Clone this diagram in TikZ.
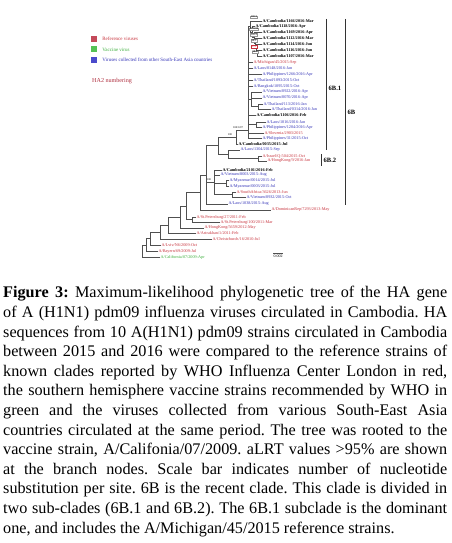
\documentclass[tikz,border=0pt]{standalone}
\usepackage{fontspec}
\setmainfont{Liberation Serif}
\usetikzlibrary{positioning}
\definecolor{refRed}{HTML}{C8323C}
\definecolor{vacGreen}{HTML}{3CAF3C}
\definecolor{seaBlue}{HTML}{3434B8}
\definecolor{keyRed}{HTML}{C44A5A}
\definecolor{keyGreen}{HTML}{55C155}
\definecolor{keyBlue}{HTML}{4A4ACB}
\definecolor{haRed}{HTML}{B03040}
\definecolor{branchGray}{HTML}{505050}

\begin{document}
\begin{tikzpicture}[
    x=1pt, y=-1pt,
    leaf/.style={anchor=west, inner sep=0.4pt, font=\fontsize{4.2}{5}\selectfont},
    camb/.style={leaf, font=\fontsize{4.2}{5}\selectfont\bfseries},
    refv/.style={leaf, text=refRed},
    vacv/.style={leaf, text=vacGreen},
    seav/.style={leaf, text=seaBlue},
    br/.style={draw=branchGray, line width=0.45pt},
    boot/.style={inner sep=0.3pt, font=\fontsize{2.8}{3}\selectfont},
    bootbox/.style={boot, draw=branchGray!60, line width=0.15pt, fill=white},
    cbar/.style={draw=black!80, line width=0.55pt},
    clade/.style={anchor=west, inner sep=0.5pt, font=\fontsize{6.5}{7}\selectfont\bfseries},
    keysq/.style={minimum size=6pt, inner sep=0pt},
    keytext/.style={anchor=west, inner sep=0pt, font=\fontsize{5}{6}\selectfont},
    caption/.style={anchor=north west, inner sep=0pt, text width=444pt, align=justify, font=\fontsize{16.2}{19.6}\selectfont\frenchspacing}
  ]
  \path[use as bounding box, fill=white] (0,0) rectangle (452,543);

  \node[keysq, fill=keyRed] (sqRef) at (94,39) {};
  \node[keysq, fill=keyGreen] (sqVac) at (94,49.5) {};
  \node[keysq, fill=keyBlue] (sqSea) at (94,60) {};
  \node[keytext, text=refRed, right=5pt of sqRef] (txRef) {Reference viruses};
  \node[keytext, text=vacGreen, right=5pt of sqVac] (txVac) {Vaccine virus};
  \node[keytext, text=seaBlue, right=5pt of sqSea] (txSea) {Viruses collected from other South-East Asia countries};
  \node[keytext, text=haRed, font=\fontsize{6.1}{7}\selectfont] (ha2) at (92,81) {HA2 numbering};

  \node[camb] (c1) at (262,21) {A/Cambodia/1166/2016-Mar};
  \node[camb] (c2) at (255,26) {A/Cambodia/1118/2016-Apr};
  \node[camb] (c3) at (262,32) {A/Cambodia/1169/2016-Apr};
  \node[camb] (c4) at (262,38) {A/Cambodia/1112/2016-Mar};
  \node[camb] (c5) at (262,44) {A/Cambodia/1114/2016-Jun};
  \node[camb] (c6) at (262,50) {A/Cambodia/1116/2016-Jun};
  \node[camb] (c7) at (262,56) {A/Cambodia/1107/2016-Mar};
  \node[refv] (mich) at (253,62) {A/Michigan/45/2015-Sep};
  \node[seav] (laos1) at (253,68) {A/Laos/0148/2016-Jan};
  \node[seav] (phil1) at (262,74) {A/Philippines/1266/2016-Apr};
  \node[seav] (thai1) at (253,80) {A/Thailand/1093/2015-Oct};
  \node[seav] (bkk) at (253,86) {A/Bangkok/1095/2015-Oct};
  \node[seav] (vn1) at (262,92) {A/Vietnam/0922/2016-Apr};
  \node[seav] (vn2) at (262,98) {A/Vietnam/0070/2016-Apr};
  \node[seav] (thai2) at (263,104) {A/Thailand/113/2016-Jan};
  \node[seav] (thai3) at (271,109) {A/Thailand/0314/2016-Jan};
  \node[camb] (cam8) at (256,115) {A/Cambodia/1106/2016-Feb};
  \node[seav] (laos2) at (266,122) {A/Laos/1016/2016-Jan};
  \node[seav] (phil2) at (262,127) {A/Philippines/1204/2016-Apr};
  \node[refv] (slov) at (264,133) {A/Slovenia/2903/2015};
  \node[seav] (phil3) at (262,138) {A/Philippines/31/2015-Oct};
  \node[camb] (cam9) at (238,144) {A/Cambodia/0035/2015-Jul};
  \node[seav] (laos3) at (240,150) {A/Laos/1304/2015-Sep};
  \node[refv] (isr) at (262,156) {A/Israel/Q-504/2015-Oct};
  \node[refv] (hk1) at (267,161) {A/HongKong/9/2016-Jan};
  \node[camb] (cam10) at (222,170) {A/Cambodia/2101/2016-Feb};
  \node[seav] (vn3) at (220,175) {A/Vietnam/8003/2015-Aug};
  \node[seav] (mya1) at (229,180) {A/Myanmar/0014/2015-Jul};
  \node[seav] (mya2) at (229,186) {A/Myanmar/0003/2015-Jul};
  \node[refv] (safr) at (236,192) {A/SouthAfrica/3626/2013-Jun};
  \node[seav] (vn4) at (246,197) {A/Vietnam/0932/2015-Oct};
  \node[seav] (laos4) at (228,204) {A/Laos/1038/2015-Aug};
  \node[refv] (dom) at (271,210) {A/DominicanRep/7293/2013-May};
  \node[refv] (stp1) at (196,217) {A/St.Petersburg/27/2011-Feb};
  \node[refv] (stp2) at (220,222) {A/St.Petersburg/100/2011-Mar};
  \node[refv] (hk2) at (204,228) {A/HongKong/5659/2012-May};
  \node[refv] (astr) at (196,233) {A/Astrakhan/1/2011-Feb};
  \node[refv] (chch) at (212,239) {A/Christchurch/16/2010-Jul};
  \node[refv] (lviv) at (161,245) {A/Lviv/N6/2009-Oct};
  \node[refv] (bay) at (158,251) {A/Bayern/69/2009-Jul};
  \node[vacv] (cal) at (160,257) {A/California/07/2009-Apr};

  \coordinate (k1) at (250,26.4);
  \coordinate (k2) at (252,31.8);
  \coordinate (k3) at (254,37.6);
  \coordinate (k4) at (255,43.2);
  \coordinate (k5) at (256,48.5);
  \coordinate (k6) at (257,53);
  \coordinate (p1) at (248,130);
  \coordinate (v1) at (251,99);
  \coordinate (v2) at (258,106.5);
  \coordinate (l1) at (256,124.5);
  \coordinate (n61) at (236,137);
  \coordinate (q1) at (228,154);
  \coordinate (n62) at (258,158.5);
  \coordinate (nU) at (218,145.5);
  \coordinate (nL) at (214,182);
  \coordinate (my) at (226,183);
  \coordinate (sa) at (232,194.5);
  \coordinate (n6B) at (206,175);
  \coordinate (d1) at (200,192.5);
  \coordinate (r7) at (192,219.5);
  \coordinate (r6) at (186,206);
  \coordinate (r5) at (180,217);
  \coordinate (r4) at (168,225);
  \coordinate (r3) at (160,232);
  \coordinate (r2) at (150,238.5);
  \coordinate (r1) at (146,244.75);
  \coordinate (r0) at (142,251);

  \draw[br] (k1) |- (c1.west) (k1) |- (k2);
  \draw[br] (k2) |- (c2.west) (k2) |- (k3);
  \draw[br] (k3) |- (c3.west) (k3) |- (k4);
  \draw[br] (k4) |- (c4.west) (k4) |- (k5);
  \draw[br] (k5) |- (c5.west) (k5) |- (k6);
  \draw[br] (k6) |- (c6.west) (k6) |- (c7.west);
  \draw[br] (p1) |- (k1) (p1) |- (mich.west) (p1) |- (laos1.west) (p1) |- (phil1.west);
  \draw[br] (p1) |- (thai1.west) (p1) |- (bkk.west) (p1) |- (v1) (p1) |- (cam8.west);
  \draw[br] (p1) |- (l1) (p1) |- (slov.west) (p1) |- (phil3.west);
  \draw[br] (v1) |- (vn1.west) (v1) |- (vn2.west) (v1) |- (v2);
  \draw[br] (v2) |- (thai2.west) (v2) |- (thai3.west);
  \draw[br] (l1) |- (laos2.west) (l1) |- (phil2.west);
  \draw[br] (n61) |- (p1) (n61) |- (cam9.west);
  \draw[br] (q1) |- (laos3.west) (q1) |- (n62);
  \draw[br] (n62) |- (isr.west) (n62) |- (hk1.west);
  \draw[br] (nU) |- (n61) (nU) |- (q1);
  \draw[br] (nL) |- (cam10.west) (nL) |- (vn3.west) (nL) |- (my) (nL) |- (sa);
  \draw[br] (my) |- (mya1.west) (my) |- (mya2.west);
  \draw[br] (sa) |- (safr.west) (sa) |- (vn4.west);
  \draw[br] (n6B) |- (nU) (n6B) |- (nL) (n6B) |- (laos4.west);
  \draw[br] (d1) |- (n6B) (d1) |- (dom.west);
  \draw[br] (r7) |- (stp1.west) (r7) |- (stp2.west);
  \draw[br] (r6) |- (d1) (r6) |- (r7);
  \draw[br] (r5) |- (r6) (r5) |- (hk2.west);
  \draw[br] (r4) |- (r5) (r4) |- (astr.west);
  \draw[br] (r3) |- (r4) (r3) |- (chch.west);
  \draw[br] (r2) |- (r3) (r2) |- (lviv.west);
  \draw[br] (r1) |- (r2) (r1) |- (bay.west);
  \draw[br] (r0) |- (r1) (r0) |- (cal.west);

  \node[bootbox] (b1) at (254,17) {100/1};
  \node[bootbox] (b2) at (254,29) {87/0.96};
  \node[bootbox] (b3) at (254,34.5) {100/1};
  \node[bootbox] (b4) at (254,40.5) {98/1};
  \node[bootbox, draw=refRed, text=refRed] (b5) at (254,46.5) {97/1};
  \node[bootbox] (b6) at (255,52) {98/1};
  \node[boot] (b7) at (238,127.5) {100/0.97};
  \node[boot] (b8) at (230,134.5) {100};
  \node[boot] (b9) at (209,179.5) {100};

  \coordinate (s1) at (273,253);
  \coordinate (s2) at (283,253);
  \draw[br] (s1) -- (s2);
  \node[boot, font=\fontsize{4}{5}\selectfont] (sc) at (278,256.5) {0.002};

  \coordinate (t61) at (326,19);
  \coordinate (u61) at (326,150);
  \coordinate (t62) at (321,154);
  \coordinate (u62) at (321,166);
  \coordinate (t6) at (345,19);
  \coordinate (u6) at (345,205);
  \draw[cbar] (t61) -- (u61);
  \draw[cbar] (t62) -- (u62);
  \draw[cbar] (t6) -- (u6);
  \node[clade] (lab61) at (328,88) {6B.1};
  \node[clade] (lab62) at (323,160) {6B.2};
  \node[clade] (lab6) at (347,112) {6B};

  \node[caption] (cap) at (3,286.3) {\textbf{Figure 3:} Maximum-likelihood phylogenetic tree of the HA gene\linebreak
    of A (H1N1) pdm09 influenza viruses circulated in Cambodia. HA\linebreak
    sequences from 10 A(H1N1) pdm09 strains circulated in Cambodia\linebreak
    between 2015 and 2016 were compared to the reference strains of\linebreak
    known clades reported by WHO Influenza Center London in red,\linebreak
    the southern hemisphere vaccine strains recommended by WHO in\linebreak
    green and the viruses collected from various South-East Asia\linebreak
    countries circulated at the same period. The tree was rooted to the\linebreak
    vaccine strain, A/Califonia/07/2009. aLRT values >95\% are shown\linebreak
    at the branch nodes. Scale bar indicates number of nucleotide\linebreak
    substitution per site. 6B is the recent clade. This clade is divided in\linebreak
    two sub-clades (6B.1 and 6B.2). The 6B.1 subclade is the dominant\linebreak
    one, and includes the A/Michigan/45/2015 reference strains.};
\end{tikzpicture}
\end{document}
